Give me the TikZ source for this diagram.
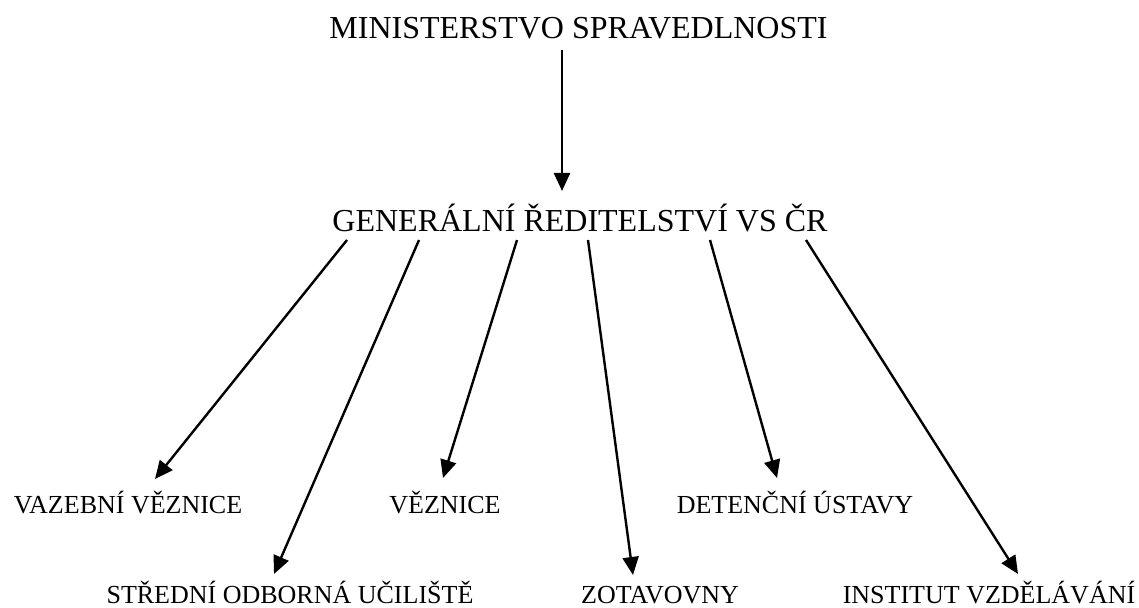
\documentclass[tikz,border=0pt]{standalone}
\usepackage{fontspec}
\setmainfont{Liberation Serif}
\usetikzlibrary{arrows.meta}
\begin{document}
\begin{tikzpicture}[x=0.5pt,y=-0.5pt,
  head/.style={inner sep=0pt,anchor=base,font=\fontsize{16pt}{19pt}\selectfont},
  unit/.style={inner sep=0pt,anchor=base,font=\fontsize{13pt}{16pt}\selectfont},
  arr/.style={line width=1.2pt,-{Stealth[length=9pt,width=8pt,inset=0pt]}}]
\useasboundingbox (0,0) rectangle (1139,608);
\node[head](ms) at (578.5,39){MINISTERSTVO SPRAVEDLNOSTI};
\node[head](gr) at (580,232){GENERÁLNÍ ŘEDITELSTVÍ VS ČR};
\node[unit](vv) at (128,513){VAZEBNÍ VĚZNICE};
\node[unit](vz) at (445,513){VĚZNICE};
\node[unit](du) at (795,513){DETENČNÍ ÚSTAVY};
\node[unit](so) at (290,603){STŘEDNÍ ODBORNÁ UČILIŠTĚ};
\node[unit](zo) at (660,603){ZOTAVOVNY};
\node[unit](iv) at (989,603){INSTITUT VZDĚLÁVÁNÍ};
\draw[arr]([shift={(-16.5,11)}]ms.base)--([shift={(-18,-41)}]gr.base);
\draw[arr]([shift={(-233,8)}]gr.base)--([shift={(27,-34)}]vv.base);
\draw[arr]([shift={(-161,8)}]gr.base)--([shift={(-16,-29)}]so.base);
\draw[arr]([shift={(-63,8)}]gr.base)--([shift={(-2,-35)}]vz.base);
\draw[arr]([shift={(8,8)}]gr.base)--([shift={(-27,-28)}]zo.base);
\draw[arr]([shift={(130,8)}]gr.base)--([shift={(-18,-35)}]du.base);
\draw[arr]([shift={(226,8)}]gr.base)--([shift={(29,-29)}]iv.base);
\end{tikzpicture}
\end{document}
